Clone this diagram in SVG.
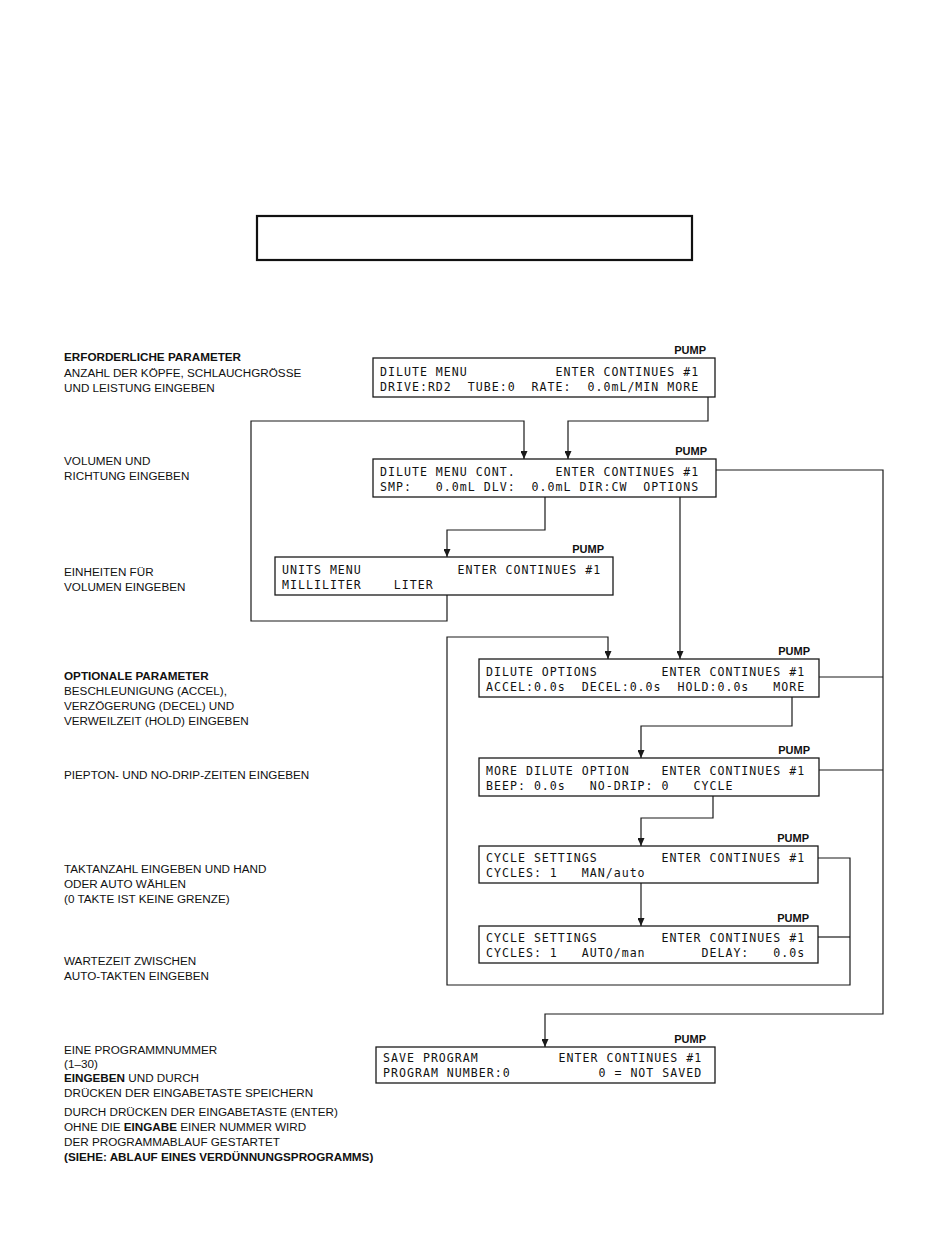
<svg xmlns="http://www.w3.org/2000/svg" width="950" height="1260" viewBox="0 0 950 1260">
<style>
.bg{fill:#fff}
.box{fill:#fff;stroke:#1a1a1a;stroke-width:1.3}
.top{fill:#fff;stroke:#111;stroke-width:2.2}
.lcd{font-family:"DejaVu Sans Mono","Liberation Mono",monospace;font-size:11.6px;fill:#111;letter-spacing:1.0px;white-space:pre}
.pump{font-family:"Liberation Sans",Arial,sans-serif;font-weight:bold;font-size:11px;fill:#111;text-anchor:end}
.lbl{font-family:"Liberation Sans",Arial,sans-serif;font-size:11.7px;fill:#111}
.b{font-weight:bold}
.conn{fill:none;stroke:#1a1a1a;stroke-width:1.2}
.arr{fill:none;stroke:#1a1a1a;stroke-width:1.2;marker-end:url(#ah)}
</style>
<defs>
<marker id="ah" markerUnits="userSpaceOnUse" markerWidth="8" markerHeight="7" viewBox="0 0 8 7" refX="8" refY="3.5" orient="auto"><path d="M0,0 L8,3.5 L0,7 Z" fill="#1a1a1a"/></marker>
</defs>
<rect class="bg" x="0" y="0" width="950" height="1260"/>
<g id="title-box"><rect class="top" x="257" y="216" width="435" height="44"/></g>
<g id="labels">
<text class="lbl b" x="64" y="361">ERFORDERLICHE PARAMETER</text>
<text class="lbl" x="64" y="377">ANZAHL DER KÖPFE, SCHLAUCHGRÖSSE</text>
<text class="lbl" x="64" y="392">UND LEISTUNG EINGEBEN</text>
<text class="lbl" x="64" y="465">VOLUMEN UND</text>
<text class="lbl" x="64" y="480">RICHTUNG EINGEBEN</text>
<text class="lbl" x="64" y="576">EINHEITEN FÜR</text>
<text class="lbl" x="64" y="591">VOLUMEN EINGEBEN</text>
<text class="lbl b" x="64" y="680">OPTIONALE PARAMETER</text>
<text class="lbl" x="64" y="695">BESCHLEUNIGUNG (ACCEL),</text>
<text class="lbl" x="64" y="710">VERZÖGERUNG (DECEL) UND</text>
<text class="lbl" x="64" y="725">VERWEILZEIT (HOLD) EINGEBEN</text>
<text class="lbl" x="64" y="779">PIEPTON- UND NO-DRIP-ZEITEN EINGEBEN</text>
<text class="lbl" x="64" y="873">TAKTANZAHL EINGEBEN UND HAND</text>
<text class="lbl" x="64" y="888">ODER AUTO WÄHLEN</text>
<text class="lbl" x="64" y="903">(0 TAKTE IST KEINE GRENZE)</text>
<text class="lbl" x="64" y="965">WARTEZEIT ZWISCHEN</text>
<text class="lbl" x="64" y="980">AUTO-TAKTEN EINGEBEN</text>
<text class="lbl" x="64" y="1054">EINE PROGRAMMNUMMER</text>
<text class="lbl" x="64" y="1068">(1–30)</text>
<text class="lbl" x="64" y="1082"><tspan class="b">EINGEBEN</tspan> UND DURCH</text>
<text class="lbl" x="64" y="1097">DRÜCKEN DER EINGABETASTE SPEICHERN</text>
<text class="lbl" x="64" y="1116">DURCH DRÜCKEN DER EINGABETASTE (ENTER)</text>
<text class="lbl" x="64" y="1131">OHNE DIE <tspan class="b">EINGABE</tspan> EINER NUMMER WIRD</text>
<text class="lbl" x="64" y="1146">DER PROGRAMMABLAUF GESTARTET</text>
<text class="lbl b" x="64" y="1161">(SIEHE: ABLAUF EINES VERDÜNNUNGSPROGRAMMS)</text>
</g>
<g id="connectors">
<path class="arr" d="M708,397 V421 H568 V459"/>
<path class="arr" d="M447,595 V621 H251 V421 H524 V459"/>
<path class="arr" d="M545,497 V530 H447 V557"/>
<path class="arr" d="M680,497 V659"/>
<path class="arr" d="M716,470 H883 V1014 H545 V1047"/>
<path class="conn" d="M819,677 H883"/>
<path class="conn" d="M819,770 H883"/>
<path class="arr" d="M792,697 V726 H641 V758"/>
<path class="arr" d="M713,796 V818 H641 V846"/>
<path class="arr" d="M641,883 V926"/>
<path class="arr" d="M818,858 H850 V985 H447 V637 H608 V659"/>
<path class="conn" d="M818,937 H850"/>
</g>
<g id="dilute-menu">
<rect class="box" x="373" y="358" width="342" height="39"/>
<text class="pump" x="706" y="354">PUMP</text>
<text class="lcd" xml:space="preserve" x="380" y="376">DILUTE MENU           ENTER CONTINUES #1</text>
<text class="lcd" xml:space="preserve" x="380" y="391">DRIVE:RD2  TUBE:0  RATE:  0.0mL/MIN MORE</text>
</g>
<g id="dilute-menu-cont">
<rect class="box" x="373" y="459" width="343" height="38"/>
<text class="pump" x="707" y="455">PUMP</text>
<text class="lcd" xml:space="preserve" x="380" y="476">DILUTE MENU CONT.     ENTER CONTINUES #1</text>
<text class="lcd" xml:space="preserve" x="380" y="491">SMP:   0.0mL DLV:  0.0mL DIR:CW  OPTIONS</text>
</g>
<g id="units-menu">
<rect class="box" x="275" y="557" width="338" height="38"/>
<text class="pump" x="604" y="553">PUMP</text>
<text class="lcd" xml:space="preserve" x="282" y="574">UNITS MENU            ENTER CONTINUES #1</text>
<text class="lcd" xml:space="preserve" x="282" y="589">MILLILITER    LITER</text>
</g>
<g id="dilute-options">
<rect class="box" x="479" y="659" width="340" height="38"/>
<text class="pump" x="810" y="655">PUMP</text>
<text class="lcd" xml:space="preserve" x="486" y="676">DILUTE OPTIONS        ENTER CONTINUES #1</text>
<text class="lcd" xml:space="preserve" x="486" y="691">ACCEL:0.0s  DECEL:0.0s  HOLD:0.0s   MORE</text>
</g>
<g id="more-dilute-option">
<rect class="box" x="479" y="758" width="340" height="38"/>
<text class="pump" x="810" y="754">PUMP</text>
<text class="lcd" xml:space="preserve" x="486" y="775">MORE DILUTE OPTION    ENTER CONTINUES #1</text>
<text class="lcd" xml:space="preserve" x="486" y="790">BEEP: 0.0s   NO-DRIP: 0   CYCLE</text>
</g>
<g id="cycle-settings-man">
<rect class="box" x="479" y="846" width="339" height="37"/>
<text class="pump" x="809" y="842">PUMP</text>
<text class="lcd" xml:space="preserve" x="486" y="862">CYCLE SETTINGS        ENTER CONTINUES #1</text>
<text class="lcd" xml:space="preserve" x="486" y="877">CYCLES: 1   MAN/auto</text>
</g>
<g id="cycle-settings-auto">
<rect class="box" x="479" y="926" width="339" height="37"/>
<text class="pump" x="809" y="922">PUMP</text>
<text class="lcd" xml:space="preserve" x="486" y="942">CYCLE SETTINGS        ENTER CONTINUES #1</text>
<text class="lcd" xml:space="preserve" x="486" y="957">CYCLES: 1   AUTO/man       DELAY:   0.0s</text>
</g>
<g id="save-program">
<rect class="box" x="376" y="1047" width="339" height="36"/>
<text class="pump" x="706" y="1043">PUMP</text>
<text class="lcd" xml:space="preserve" x="383" y="1062">SAVE PROGRAM          ENTER CONTINUES #1</text>
<text class="lcd" xml:space="preserve" x="383" y="1077">PROGRAM NUMBER:0           0 = NOT SAVED</text>
</g>
</svg>
